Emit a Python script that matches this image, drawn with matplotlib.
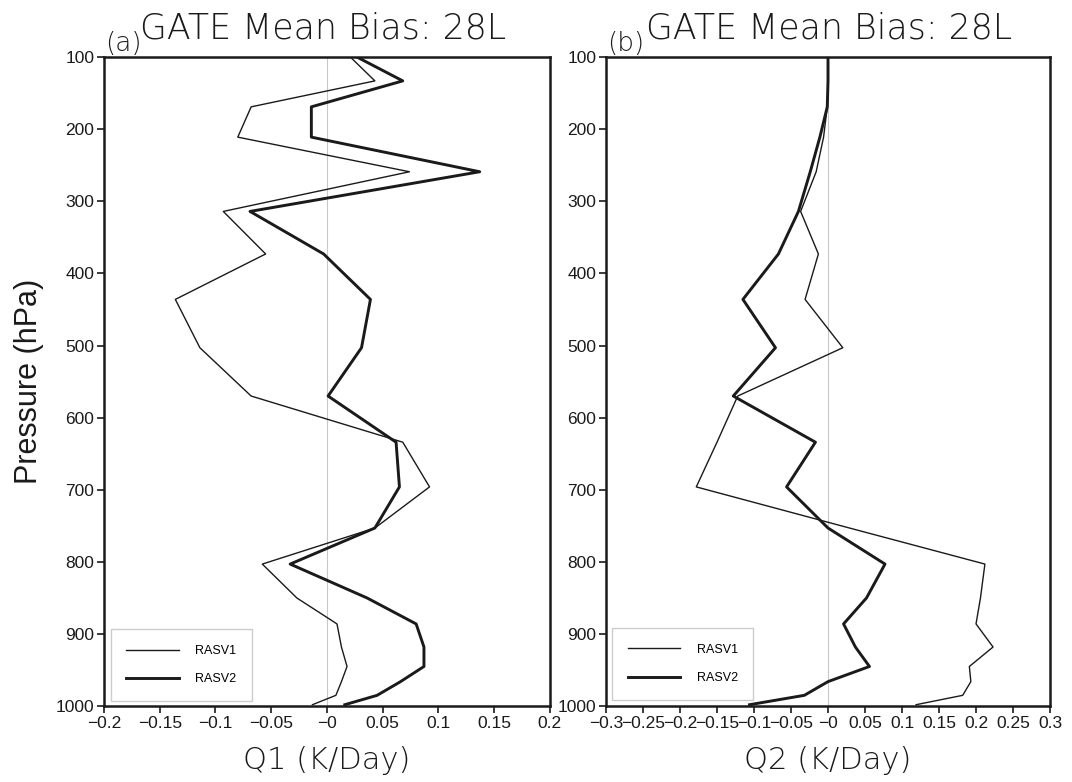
import numpy as np
import matplotlib
matplotlib.use("Agg")
import matplotlib.pyplot as plt
from matplotlib.ticker import FuncFormatter

# Model levels (hPa) shared by both profiles
levels = [100, 133, 169, 211, 259, 314, 373, 436, 503, 570, 634,
          696, 753, 803, 850, 886, 918, 945, 966, 985, 998]

# Q1 mean bias (K/day)
q1_rasv1 = [0.021, 0.043, -0.068, -0.080, 0.074, -0.093, -0.055, -0.136,
            -0.114, -0.068, 0.068, 0.092, 0.043, -0.058, -0.027, 0.009,
            0.013, 0.018, 0.013, 0.008, -0.013]
q1_rasv2 = [0.027, 0.068, -0.014, -0.014, 0.137, -0.069, -0.003, 0.039,
            0.031, 0.001, 0.062, 0.065, 0.043, -0.033, 0.036, 0.080,
            0.087, 0.087, 0.066, 0.045, 0.016]

# Q2 mean bias (K/day)
q2_rasv1 = [0.0, 0.0, -0.001, -0.006, -0.016, -0.037, -0.013, -0.031,
            0.020, -0.122, -0.150, -0.178, 0.029, 0.212, 0.206, 0.200,
            0.223, 0.191, 0.193, 0.182, 0.119]
q2_rasv2 = [0.0, 0.0, -0.001, -0.011, -0.024, -0.040, -0.067, -0.115,
            -0.071, -0.128, -0.017, -0.056, 0.0, 0.077, 0.052, 0.021,
            0.037, 0.056, 0.0, -0.032, -0.106]

x_ticks_q1 = np.round(np.arange(-0.2, 0.2001, 0.05), 2)
x_ticks_q2 = np.round(np.arange(-0.3, 0.3001, 0.05), 2)
y_ticks = list(range(100, 1001, 100))

HEAD = ["DejaVu Sans"]          # titles / axis label (thin weight)
TICK = ["Liberation Sans", "DejaVu Sans"]
INK = "#1a1a1a"


def _fmt(v, pos):
    s = "%g" % round(v, 2)
    return s.replace("-", "\u2212")


def draw_panel(ax, a, b, xticks, xlabel, tag, title_x, leg_anchor, show_ylabel):
    ax.axvline(0, color="#c8c8c8", lw=0.8, zorder=1)
    ax.plot(a, levels, color=INK, lw=1.0, label="RASV1", zorder=3)
    ax.plot(b, levels, color=INK, lw=2.1, label="RASV2", zorder=3)

    ax.set_xlim(xticks[0], xticks[-1])
    ax.set_ylim(1000, 100)
    ax.set_xticks(xticks)
    ax.set_yticks(y_ticks)
    ax.xaxis.set_major_formatter(FuncFormatter(_fmt))
    ax.tick_params(direction="out", length=5, width=1.2, colors=INK,
                   labelsize=12.5, pad=2)
    for lab in ax.get_xticklabels() + ax.get_yticklabels():
        lab.set_family(TICK)
    for sp in ax.spines.values():
        sp.set_linewidth(1.8)
        sp.set_color(INK)

    ax.set_xlabel(xlabel, fontsize=22, family=HEAD, weight="light", color=INK)
    ax.xaxis.set_label_coords(0.5, -0.062)
    if show_ylabel:
        ax.set_ylabel("Pressure (hPa)", fontsize=22, family=TICK, color=INK)
        ax.yaxis.set_label_coords(-0.135, 0.5)

    ax.text(title_x, 1.028, "GATE Mean Bias: 28L", transform=ax.transAxes,
            fontsize=25, family=HEAD, weight="light", color=INK,
            ha="left", va="baseline")
    ax.text(0.003, 1.009, "(%s)" % tag, transform=ax.transAxes,
            fontsize=19, family=HEAD, weight="light", color=INK,
            ha="left", va="baseline")

    leg = ax.legend(loc="lower left", bbox_to_anchor=leg_anchor,
                    frameon=True, fancybox=False, framealpha=1,
                    edgecolor="#cccccc", prop={"family": TICK, "size": 9},
                    handlelength=4.2, handletextpad=1.3, borderpad=1.25,
                    labelspacing=1.3, borderaxespad=0.0)
    leg.get_frame().set_linewidth(1.0)


fig = plt.figure(figsize=(10.72, 7.82), dpi=100)
ax1 = fig.add_axes([0.097, 0.097, 0.416, 0.830])
ax2 = fig.add_axes([0.5653, 0.097, 0.4142, 0.830])

draw_panel(ax1, q1_rasv1, q1_rasv2, x_ticks_q1, "Q1 (K/Day)", "a",
           0.081, (0.015, 0.008), True)
draw_panel(ax2, q2_rasv1, q2_rasv2, x_ticks_q2, "Q2 (K/Day)", "b",
           0.09, (0.014, 0.010), False)

fig.savefig("out.png", dpi=100)
